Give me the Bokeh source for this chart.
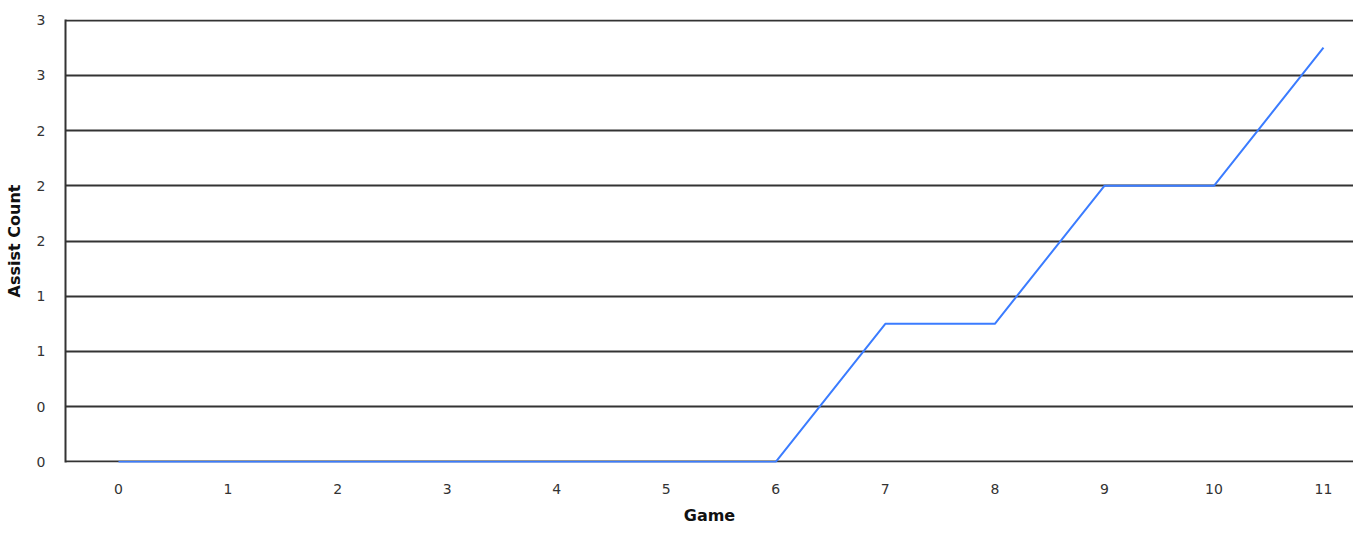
from bokeh.plotting import figure
from bokeh.models import FixedTicker, Range1d
from bokeh.embed import file_html
from bokeh.resources import INLINE

games = [0, 1, 2, 3, 4, 5, 6, 7, 8, 9, 10, 11]
assists = [0, 0, 0, 0, 0, 0, 0, 1, 1, 2, 2, 3]
y_ticks = [0, 0.4, 0.8, 1.2, 1.6, 2.0, 2.4, 2.8, 3.2]
y_tick_labels = ["0", "0", "1", "1", "2", "2", "2", "3", "3"]
x_ticks = games
x_tick_labels = [str(g) for g in games]

p = figure(width=1353, height=528, output_backend="svg", toolbar_location=None,
           x_range=Range1d(-0.4838, 11.274), y_range=Range1d(-0.004, 3.204),
           min_border_left=65, min_border_right=0, min_border_top=19, min_border_bottom=66)
p.outline_line_color = None
p.background_fill_color = "white"

p.line(games, assists, line_color="#3b7cff", line_width=2)

font = "DejaVu Sans"
p.yaxis.ticker = FixedTicker(ticks=y_ticks)
p.yaxis.major_label_overrides = {t: l for t, l in zip(y_ticks, y_tick_labels)}
p.xaxis.ticker = FixedTicker(ticks=x_ticks)
p.xaxis.major_label_overrides = {t: l for t, l in zip(x_ticks, x_tick_labels)}

for ax in (p.xaxis[0], p.yaxis[0]):
    ax.major_tick_line_color = None
    ax.minor_tick_line_color = None
    ax.major_label_text_font = font
    ax.major_label_text_font_size = "14px"
    ax.major_label_text_color = "#333333"
    ax.axis_label_text_font = font
    ax.axis_label_text_font_size = "16px"
    ax.axis_label_text_font_style = "bold"
    ax.axis_label_text_color = "#111111"

p.xaxis.axis_label = "Game"
p.yaxis.axis_label = "Assist Count"
p.xaxis.axis_line_color = None
p.yaxis.axis_line_color = "#333333"
p.yaxis.axis_line_width = 2
p.xaxis.major_label_standoff = 15
p.xaxis.axis_label_standoff = 9
p.yaxis.major_label_standoff = 14
p.yaxis.axis_label_standoff = 10

p.xgrid.grid_line_color = None
p.ygrid.ticker = FixedTicker(ticks=y_ticks)
p.ygrid.grid_line_color = "#333333"
p.ygrid.grid_line_width = 2

open("out.html", "w").write(file_html(p, INLINE))
